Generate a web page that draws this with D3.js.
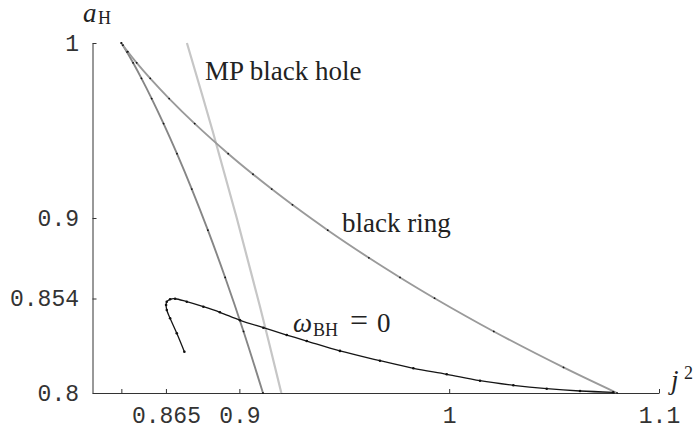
<!DOCTYPE html>
<html>
<head>
<meta charset="utf-8">
<script src="https://cdn.jsdelivr.net/npm/d3@7"></script>
<style>
  html, body { margin: 0; padding: 0; background: #fff; }
  svg { display: block; }
</style>
</head>
<body>
<svg id="chart" width="694" height="428"></svg>
<script>
// Axis ticks (j^2 along x, a_H along y)
const xTickValues = [0.84375, 0.865, 0.9, 1, 1.1];
const xTickLabels = ["", "0.865", "0.9", "1", "1.1"];
const yTickValues = [0.8, 0.854, 0.9, 1];
const yTickLabels = ["0.8", "0.854", "0.9", "1"];

// Myers-Perry black hole
const mpJ2 = [0.875, 0.88719, 0.89875, 0.90969, 0.92];
const mpAH = [1, 0.95, 0.9, 0.85, 0.8];

// Black ring, thin branch
const thinJ2 = [0.84375, 0.84449, 0.84684, 0.85107, 0.8575, 0.86654, 0.87871, 0.89469, 0.90649,
                0.91542, 0.9253, 0.94212, 0.96172, 0.97656, 0.99303, 1.02126, 1.0545, 1.08];
const thinAH = [1, 0.99875, 0.99499, 0.98869, 0.9798, 0.96825, 0.95394, 0.93675, 0.92499,
                0.91652, 0.90752, 0.89303, 0.87727, 0.86603, 0.85417, 0.83516, 0.81462, 0.8];

// Black ring, fat branch
const fatJ2 = [0.84375, 0.84442, 0.84634, 0.84934, 0.85333, 0.8582, 0.86387, 0.87026, 0.87732,
               0.88499, 0.89323, 0.90199, 0.91125];
const fatAH = [1, 0.99875, 0.99499, 0.98869, 0.9798, 0.96825, 0.95394, 0.93675, 0.91652,
               0.89303, 0.86603, 0.83516, 0.8];

// omega_BH = 0 sequence
const omegaJ2 = [0.87379, 0.87017, 0.86698, 0.8654, 0.86507, 0.8654, 0.86698, 0.86936, 0.87493,
                 0.88284, 0.89073, 0.90033, 0.91144, 0.92259, 0.93212, 0.94794, 0.967, 0.98292,
                 0.99883, 1.0147, 1.03057, 1.04648, 1.06236, 1.07822];
const omegaAH = [0.8236, 0.83411, 0.84269, 0.84743, 0.85029, 0.85217, 0.85354, 0.85385, 0.85217,
                 0.84931, 0.84611, 0.84154, 0.83731, 0.83314, 0.82971, 0.82406, 0.81846, 0.81411,
                 0.81069, 0.80703, 0.8044, 0.80246, 0.80114, 0.8004];

const svg = d3.select("#chart");
const x = d3.scaleLinear().domain([0.83, 1.1]).range([92.5, 659]);
const y = d3.scaleLinear().domain([0.8, 1]).range([393, 43]);

const zip = (a, b) => a.map((v, i) => [v, b[i]]);
const line = d3.line().x(d => x(d[0])).y(d => y(d[1])).curve(d3.curveCatmullRom);

const tickFont = "'Liberation Mono', 'Courier New', monospace";
const serif = "'Liberation Serif', 'Times New Roman', serif";

// Axes
const xAxis = d3.axisBottom(x).tickValues(xTickValues)
  .tickFormat((d, i) => xTickLabels[i]).tickSizeInner(-4).tickSizeOuter(0);
const gx = svg.append("g").attr("transform", "translate(0,393)").call(xAxis);
gx.selectAll("text").attr("y", 29.5).attr("dy", null);

const yAxis = d3.axisLeft(y).tickValues(yTickValues)
  .tickFormat((d, i) => yTickLabels[i]).tickSizeInner(-4).tickSizeOuter(0).tickPadding(13.5);
const gy = svg.append("g").attr("transform", "translate(92.5,0)").call(yAxis);

[gx, gy].forEach(g => {
  g.select(".domain").attr("stroke", "#333").attr("stroke-width", 1);
  g.selectAll(".tick line").attr("stroke", "#333").attr("stroke-width", 1);
  g.selectAll("text").attr("font-family", tickFont).attr("font-size", 23).attr("fill", "#333");
});

// Curves
const series = [
  { pts: zip(mpJ2, mpAH), color: "#c6c6c6", width: 2.2, dots: false },
  { pts: zip(fatJ2, fatAH), color: "#868686", width: 1.9, dots: true, r: 0.9 },
  { pts: zip(thinJ2, thinAH), color: "#9a9a9a", width: 1.9, dots: true, r: 0.9 },
  { pts: zip(omegaJ2, omegaAH), color: "#151515", width: 1.3, dots: true, r: 1.3 }
];

series.forEach(s => {
  svg.append("path").datum(s.pts)
    .attr("d", line).attr("fill", "none")
    .attr("stroke", s.color).attr("stroke-width", s.width);
  if (s.dots) {
    svg.append("g").selectAll("circle").data(s.pts).join("circle")
      .attr("cx", d => x(d[0])).attr("cy", d => y(d[1])).attr("r", s.r)
      .attr("fill", "#111");
  }
});

// Labels
const label = (tx, ty, size, str, italic) =>
  svg.append("text").attr("x", tx).attr("y", ty).attr("font-family", serif)
    .attr("font-size", size).attr("font-style", italic ? "italic" : "normal")
    .attr("fill", "#222").text(str);

// axis names
label(83, 21.5, 27, "a", true);
label(98, 24, 18, "H", false);
label(671, 389, 27, "j", true);
label(684, 379, 18, "2", false);

// curve names
label(205, 80, 27, "MP black hole", false);
label(342, 231.7, 27, "black ring", false);
label(293, 331.5, 27, "ω", true);
label(313, 336, 18, "BH", false);
label(350, 331, 32, "=", false);
label(377, 331.5, 27, "0", false);
</script>
</body>
</html>
